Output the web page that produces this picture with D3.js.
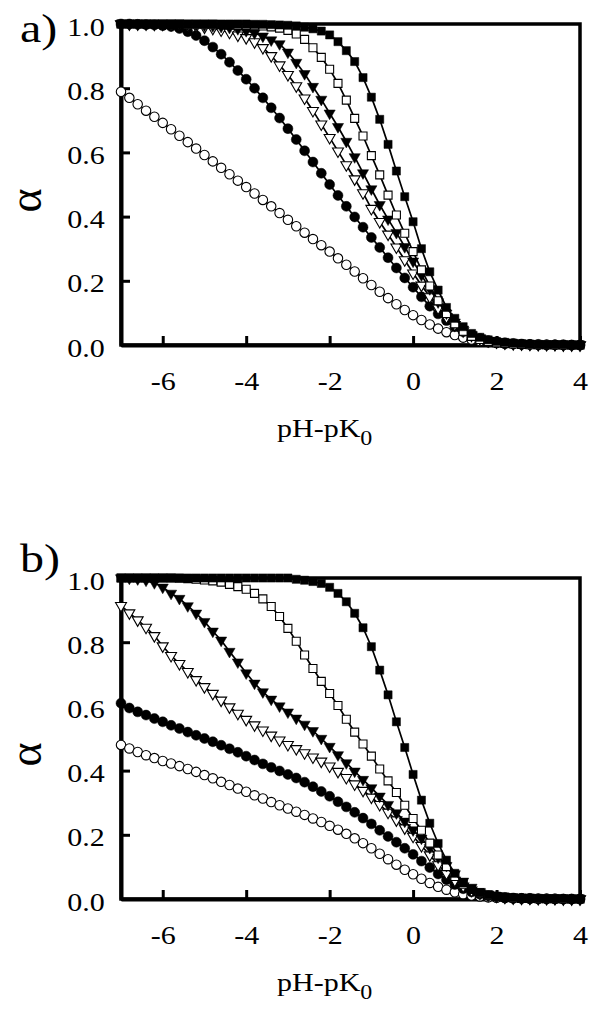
<!DOCTYPE html>
<html>
<head>
<meta charset="utf-8">
<script src="https://cdn.jsdelivr.net/npm/d3@7"></script>
<style>
  body { margin: 0; background: #fff; }
  svg { display: block; }
  text { font-family: "Liberation Serif", "Times New Roman", serif; fill: #000; }
</style>
</head>
<body>
<svg id="chart" width="604" height="1012"></svg>
<script>
// --- DATA ---
const pH = [
  -7.0, -6.8, -6.6, -6.4, -6.2, -6.0, -5.8, -5.6, -5.4, -5.2,
  -5.0, -4.8, -4.6, -4.4, -4.2, -4.0, -3.8, -3.6, -3.4, -3.2,
  -3.0, -2.8, -2.6, -2.4, -2.2, -2.0, -1.8, -1.6, -1.4, -1.2,
  -1.0, -0.8, -0.6, -0.4, -0.2, 0.0, 0.2, 0.4, 0.6, 0.8,
  1.0, 1.2, 1.4, 1.6, 1.8, 2.0, 2.2, 2.4, 2.6, 2.8,
  3.0, 3.2, 3.4, 3.6, 3.8, 4.0
];
const xTicks = [-6, -4, -2, 0, 2, 4];
const yTicks = [0, 0.2, 0.4, 0.6, 0.8, 1.0];

// panel a
const aOpenCircle = [
  0.789, 0.770, 0.750, 0.730, 0.711, 0.692, 0.672, 0.652, 0.632, 0.612,
  0.592, 0.572, 0.552, 0.532, 0.512, 0.492, 0.472, 0.452, 0.432, 0.411,
  0.390, 0.370, 0.350, 0.330, 0.311, 0.291, 0.270, 0.250, 0.229, 0.208,
  0.187, 0.166, 0.146, 0.127, 0.109, 0.093, 0.078, 0.064, 0.051, 0.040,
  0.031, 0.023, 0.017, 0.012, 0.009, 0.006, 0.004, 0.003, 0.002, 0.002,
  0.001, 0.001, 0.001, 0, 0, 0
];
const aFilledCircle = [
  1.000, 1.000, 0.999, 0.998, 0.997, 0.995, 0.992, 0.986, 0.976, 0.964,
  0.948, 0.928, 0.906, 0.881, 0.855, 0.828, 0.800, 0.770, 0.739, 0.707,
  0.674, 0.640, 0.605, 0.570, 0.535, 0.500, 0.466, 0.432, 0.399, 0.367,
  0.335, 0.304, 0.272, 0.240, 0.209, 0.180, 0.150, 0.121, 0.097, 0.076,
  0.057, 0.041, 0.029, 0.020, 0.014, 0.010, 0.007, 0.005, 0.003, 0.002,
  0.002, 0.001, 0.001, 0.001, 0, 0
];
const aOpenTriangle = [
  1.000, 1.000, 1.000, 1.000, 0.999, 0.999, 0.998, 0.997, 0.995, 0.993,
  0.990, 0.986, 0.981, 0.974, 0.965, 0.957, 0.944, 0.926, 0.901, 0.872,
  0.842, 0.807, 0.769, 0.730, 0.688, 0.646, 0.604, 0.561, 0.517, 0.474,
  0.425, 0.384, 0.345, 0.305, 0.265, 0.224, 0.186, 0.150, 0.115, 0.087,
  0.063, 0.044, 0.030, 0.020, 0.013, 0.009, 0.006, 0.004, 0.003, 0.002,
  0.001, 0.001, 0.001, 0, 0, 0
];
const aFilledTriangle = [
  1.000, 1.000, 1.000, 1.000, 1.000, 1.000, 0.999, 0.999, 0.998, 0.997,
  0.996, 0.994, 0.992, 0.989, 0.985, 0.979, 0.972, 0.962, 0.950, 0.938,
  0.912, 0.880, 0.845, 0.805, 0.765, 0.722, 0.680, 0.634, 0.586, 0.536,
  0.486, 0.437, 0.392, 0.350, 0.306, 0.261, 0.218, 0.175, 0.134, 0.099,
  0.071, 0.049, 0.033, 0.022, 0.014, 0.009, 0.006, 0.004, 0.003, 0.002,
  0.001, 0.001, 0.001, 0, 0, 0
];
const aOpenSquare = [
  1.000, 1.000, 1.000, 1.000, 1.000, 1.000, 1.000, 1.000, 0.999, 0.999,
  0.999, 0.999, 0.998, 0.998, 0.997, 0.997, 0.996, 0.994, 0.991, 0.987,
  0.980, 0.969, 0.952, 0.926, 0.896, 0.859, 0.815, 0.763, 0.706, 0.651,
  0.590, 0.530, 0.467, 0.405, 0.348, 0.291, 0.234, 0.184, 0.138, 0.098,
  0.066, 0.043, 0.027, 0.017, 0.011, 0.007, 0.005, 0.003, 0.002, 0.001,
  0.001, 0.001, 0, 0, 0, 0
];
const aFilledSquare = [
  1.000, 1.000, 1.000, 1.000, 1.000, 1.000, 1.000, 1.000, 1.000, 1.000,
  1.000, 1.000, 1.000, 1.000, 1.000, 1.000, 0.999, 0.999, 0.998, 0.997,
  0.996, 0.994, 0.990, 0.985, 0.978, 0.966, 0.945, 0.917, 0.883, 0.833,
  0.772, 0.703, 0.625, 0.542, 0.462, 0.384, 0.300, 0.228, 0.171, 0.117,
  0.083, 0.057, 0.036, 0.024, 0.016, 0.011, 0.008, 0.006, 0.004, 0.003,
  0.002, 0.001, 0.001, 0.001, 0, 0
];

// panel b
const bOpenCircle = [
  0.480, 0.469, 0.458, 0.448, 0.439, 0.430, 0.422, 0.414, 0.405, 0.396,
  0.386, 0.376, 0.365, 0.355, 0.344, 0.334, 0.323, 0.313, 0.302, 0.292,
  0.282, 0.272, 0.262, 0.251, 0.240, 0.228, 0.216, 0.203, 0.189, 0.174,
  0.158, 0.141, 0.124, 0.107, 0.091, 0.077, 0.063, 0.050, 0.038, 0.029,
  0.021, 0.015, 0.011, 0.008, 0.005, 0.004, 0.003, 0.002, 0.002, 0.001,
  0.001, 0.001, 0, 0, 0, 0
];
const bFilledCircle = [
  0.610, 0.595, 0.583, 0.573, 0.562, 0.552, 0.541, 0.531, 0.520, 0.510,
  0.500, 0.490, 0.479, 0.468, 0.457, 0.445, 0.433, 0.421, 0.410, 0.399,
  0.388, 0.377, 0.364, 0.350, 0.335, 0.320, 0.303, 0.287, 0.270, 0.252,
  0.234, 0.214, 0.195, 0.177, 0.158, 0.139, 0.118, 0.098, 0.078, 0.060,
  0.045, 0.032, 0.022, 0.015, 0.010, 0.007, 0.005, 0.003, 0.002, 0.002,
  0.001, 0.001, 0.001, 0, 0, 0
];
const bOpenTriangle = [
  0.914, 0.891, 0.869, 0.846, 0.820, 0.788, 0.758, 0.733, 0.708, 0.683,
  0.661, 0.640, 0.619, 0.598, 0.578, 0.559, 0.542, 0.526, 0.510, 0.495,
  0.481, 0.468, 0.455, 0.442, 0.429, 0.414, 0.397, 0.378, 0.358, 0.338,
  0.317, 0.294, 0.270, 0.246, 0.221, 0.195, 0.166, 0.137, 0.106, 0.080,
  0.058, 0.040, 0.027, 0.018, 0.012, 0.008, 0.005, 0.003, 0.002, 0.002,
  0.001, 0.001, 0.001, 0, 0, 0
];
const bFilledTriangle = [
  1.000, 0.999, 0.997, 0.993, 0.985, 0.971, 0.952, 0.936, 0.913, 0.890,
  0.864, 0.834, 0.806, 0.771, 0.738, 0.704, 0.672, 0.645, 0.622, 0.601,
  0.582, 0.563, 0.544, 0.524, 0.500, 0.475, 0.449, 0.424, 0.398, 0.372,
  0.346, 0.320, 0.294, 0.268, 0.242, 0.215, 0.189, 0.160, 0.130, 0.104,
  0.078, 0.055, 0.036, 0.023, 0.015, 0.010, 0.006, 0.004, 0.003, 0.002,
  0.001, 0.001, 0.001, 0, 0, 0
];
const bOpenSquare = [
  1.000, 1.000, 1.000, 1.000, 1.000, 1.000, 1.000, 0.999, 0.998, 0.996,
  0.994, 0.991, 0.987, 0.980, 0.973, 0.965, 0.952, 0.935, 0.911, 0.880,
  0.843, 0.803, 0.760, 0.718, 0.678, 0.640, 0.603, 0.560, 0.520, 0.483,
  0.445, 0.405, 0.368, 0.332, 0.292, 0.251, 0.214, 0.174, 0.137, 0.101,
  0.070, 0.046, 0.030, 0.019, 0.012, 0.008, 0.005, 0.003, 0.002, 0.002,
  0.001, 0.001, 0.001, 0, 0, 0
];
const bFilledSquare = [
  1.000, 1.000, 1.000, 1.000, 1.000, 1.000, 1.000, 1.000, 1.000, 1.000,
  1.000, 1.000, 1.000, 1.000, 1.000, 1.000, 1.000, 1.000, 1.000, 1.000,
  1.000, 0.996, 0.993, 0.989, 0.983, 0.971, 0.952, 0.926, 0.890, 0.845,
  0.786, 0.713, 0.636, 0.552, 0.472, 0.388, 0.308, 0.236, 0.173, 0.121,
  0.080, 0.050, 0.031, 0.020, 0.013, 0.009, 0.006, 0.004, 0.003, 0.002,
  0.002, 0.001, 0.001, 0.001, 0, 0
];

// --- MARKER STYLES (draw order = list order) ---
const markers = [
  { shape: d3.symbolCircle,   size: 70, fill: "#fff", rot: 0 },
  { shape: d3.symbolCircle,   size: 78, fill: "#000", rot: 0 },
  { shape: d3.symbolTriangle, size: 52, fill: "#fff", rot: 180 },
  { shape: d3.symbolTriangle, size: 54, fill: "#000", rot: 180 },
  { shape: d3.symbolSquare,   size: 64, fill: "#fff", rot: 0 },
  { shape: d3.symbolSquare,   size: 66, fill: "#000", rot: 0 }
];

const panels = [
  { label: "a)", top: 24, bottom: 345, labelY: 42,
    series: [aOpenCircle, aFilledCircle, aOpenTriangle, aFilledTriangle, aOpenSquare, aFilledSquare] },
  { label: "b)", top: 578, bottom: 899, labelY: 572,
    series: [bOpenCircle, bFilledCircle, bOpenTriangle, bFilledTriangle, bOpenSquare, bFilledSquare] }
];

// --- LAYOUT ---
const LEFT = 121, RIGHT = 580;
const STRETCH = 1.2; // glyphs in the figure are wider than plain Times
const svg = d3.select("#chart");
svg.append("rect").attr("width", 604).attr("height", 1012).attr("fill", "#fff");

const x = d3.scaleLinear().domain([-7, 4]).range([LEFT, RIGHT]);

function label(parent, px, py, str, size, anchor) {
  return parent.append("text")
    .attr("transform", `translate(${px},${py}) scale(${STRETCH},1)`)
    .attr("text-anchor", anchor)
    .style("font-size", size + "px")
    .text(str);
}

function drawPanel(p) {
  const y = d3.scaleLinear().domain([0, 1]).range([p.bottom, p.top]);
  const g = svg.append("g");

  // frame
  g.append("rect")
    .attr("x", LEFT).attr("y", p.top)
    .attr("width", RIGHT - LEFT).attr("height", p.bottom - p.top)
    .attr("fill", "none").attr("stroke", "#000").attr("stroke-width", 3.5);

  // axes, ticks pointing inward
  const xAxis = g.append("g")
    .attr("transform", `translate(0,${p.bottom})`)
    .call(d3.axisBottom(x).tickValues(xTicks).tickSize(-9).tickSizeOuter(0)
      .tickPadding(27).tickFormat(d => String(d)));
  const yAxis = g.append("g")
    .attr("transform", `translate(${LEFT},0)`)
    .call(d3.axisLeft(y).tickValues(yTicks).tickSize(-9).tickSizeOuter(0)
      .tickPadding(13.5).tickFormat(d3.format(".1f")));

  [xAxis, yAxis].forEach(ax => {
    ax.attr("font-family", null);
    ax.select(".domain").attr("stroke", "#000").attr("stroke-width", 4);
    ax.selectAll(".tick line").attr("stroke", "#000").attr("stroke-width", 3);
    ax.selectAll(".tick text")
      .attr("fill", "#000")
      .attr("transform", `scale(${STRETCH},1)`)
      .style("font-family", '"Liberation Serif", "Times New Roman", serif')
      .style("font-size", "25px");
  });
  yAxis.selectAll(".tick text").attr("dy", "0.44em");

  // panel letter
  label(g, 20, p.labelY, p.label, 40, "start");

  // y label, rotated
  g.append("text")
    .attr("transform", `translate(41,${(p.top + p.bottom) / 2 + 16}) rotate(-90)`)
    .attr("text-anchor", "middle")
    .style("font-size", "46px")
    .text("α");

  // x label
  const xl = label(g, 277, p.bottom + 92, "pH-pK", 25, "start");
  xl.append("tspan").attr("dy", 8).style("font-size", "20px").text("0");

  // series
  const line = d3.line().x((d, i) => x(pH[i])).y(d => y(d));
  p.series.forEach((vals, k) => {
    const m = markers[k];
    g.append("path")
      .attr("d", line(vals))
      .attr("fill", "none").attr("stroke", "#000").attr("stroke-width", 1.7);
    const sym = d3.symbol().type(m.shape).size(m.size);
    g.append("g").selectAll("path").data(vals).join("path")
      .attr("transform", (d, i) => `translate(${x(pH[i])},${y(d)}) rotate(${m.rot})`)
      .attr("d", sym)
      .attr("fill", m.fill)
      .attr("stroke", "#000")
      .attr("stroke-width", m.fill === "#fff" ? 1.1 : 0.5);
  });
}

panels.forEach(drawPanel);
</script>
</body>
</html>
